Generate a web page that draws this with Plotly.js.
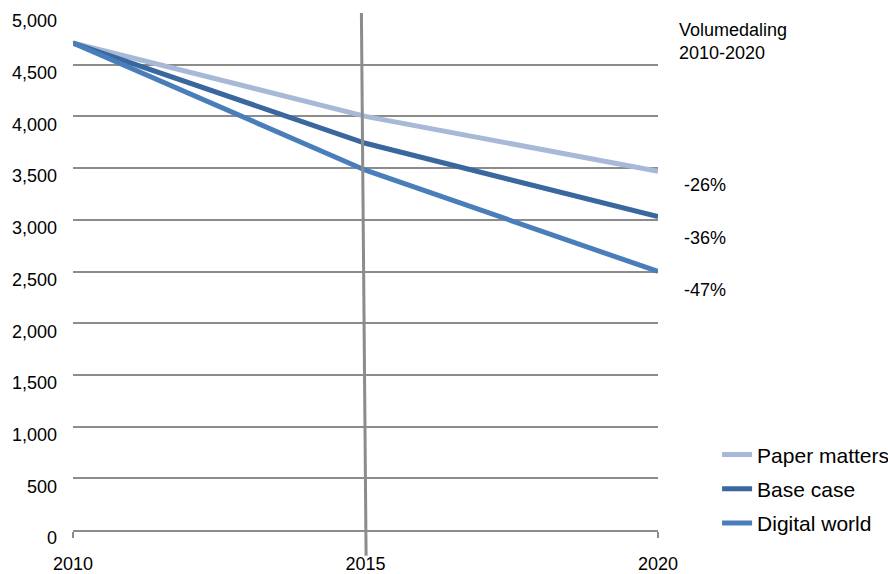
<!DOCTYPE html>
<html>
<head>
<meta charset="utf-8">
<script src="https://cdn.plot.ly/plotly-3.0.1.min.js"></script>
<style>html,body{margin:0;padding:0;background:#fff}#chart{width:888px;height:574px}</style>
</head>
<body>
<div id="chart"></div>
<script>
var years = [2010, 2015, 2020];
var seriesNames = ["Paper matters", "Base case", "Digital world"];
var paperMatters = [4710, 4000, 3470];
var baseCase = [4710, 3740, 3030];
var digitalWorld = [4710, 3480, 2500];
var declineLabels = ["-26%", "-36%", "-47%"];
var yTicks = [0, 500, 1000, 1500, 2000, 2500, 3000, 3500, 4000, 4500, 5000];
var xTicks = [2010, 2015, 2020];
var annotationTitle = "Volumedaling<br>2010-2020";

var colors = ["#A7B9D7", "#3A679E", "#4A7EBB"];
var labelShift = [-14, -21, -18];
var allSeries = [paperMatters, baseCase, digitalWorld];
var FONT = "Liberation Sans, Arial, sans-serif";

var traces = allSeries.map(function (s, i) {
  return {
    x: years, y: s, type: "scatter", mode: "lines", name: seriesNames[i],
    legendgroup: "g" + i,
    line: { color: colors[i], width: 5 }, hoverinfo: "skip"
  };
});

var annotations = [{
  xref: "paper", yref: "paper", x: 1.032, y: 0.99, xanchor: "left", yanchor: "top",
  text: annotationTitle, showarrow: false, align: "left",
  font: { family: FONT, size: 18, color: "#000" }
}];
allSeries.forEach(function (s, i) {
  annotations.push({
    xref: "x", yref: "y", x: years[years.length - 1], y: s[s.length - 1],
    xanchor: "left", yanchor: "middle", xshift: 24, yshift: labelShift[i],
    text: declineLabels[i], showarrow: false,
    font: { family: FONT, size: 18, color: "#000" }
  });
});

var layout = {
  width: 888, height: 574,
  margin: { l: 73, r: 230, t: 13, b: 44, autoexpand: false },
  paper_bgcolor: "#fff", plot_bgcolor: "#fff",
  font: { family: FONT, size: 18, color: "#000" },
  showlegend: true,
  legend: {
    x: 1.101, y: 0.185, xanchor: "left", yanchor: "top",
    font: { family: FONT, size: 21, color: "#000" },
    bgcolor: "rgba(0,0,0,0)", itemwidth: 30, tracegroupgap: 4,
    traceorder: "grouped"
  },
  xaxis: {
    range: [2010, 2020], tickvals: xTicks, ticktext: xTicks.map(String),
    showgrid: false, zeroline: false, showline: true, linecolor: "#8c8c8c", linewidth: 2,
    ticks: "outside", ticklen: 6, tickwidth: 2, tickcolor: "#8c8c8c",
    ticklabelstandoff: 10,
    tickfont: { family: FONT, size: 18, color: "#000" }
  },
  yaxis: {
    range: [0, 5000], tickvals: yTicks, tickformat: ",d",
    showgrid: true, gridcolor: "#8c8c8c", gridwidth: 2,
    zeroline: false, showline: false, ticks: "", ticklabelstandoff: 15,
    ticklabelshift: 8,
    tickfont: { family: FONT, size: 18, color: "#000" }
  },
  shapes: [{
    type: "line", xref: "x", yref: "paper",
    x0: 2014.93, x1: 2015.01, y0: 1.0, y1: -0.05,
    line: { color: "#8c8c8c", width: 3 }
  }],
  annotations: annotations
};

Plotly.newPlot("chart", traces, layout, { displayModeBar: false, staticPlot: true });
</script>
</body>
</html>
